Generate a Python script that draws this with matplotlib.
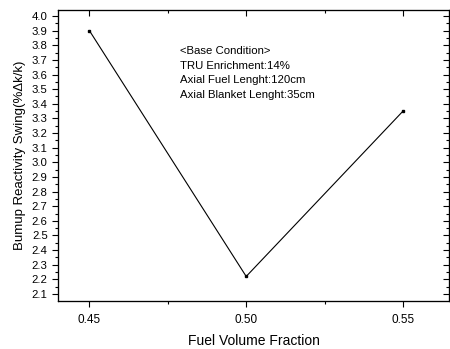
import matplotlib
matplotlib.use('Agg')
import matplotlib.pyplot as plt
from matplotlib.ticker import MultipleLocator

plt.rcParams['font.family'] = ['Liberation Sans', 'DejaVu Sans']

fvf = [0.45, 0.50, 0.55]
swing = [3.90, 2.22, 3.35]
info = ['<Base Condition>', 'TRU Enrichment:14%',
        'Axial Fuel Lenght:120cm', 'Axial Blanket Lenght:35cm']

fig = plt.figure(figsize=(4.5, 3.49), dpi=100)
ax = fig.add_axes([0.129, 0.1375, 0.869, 0.833])

ax.plot(fvf, swing, color='black', lw=0.8, marker='s', ms=2)

ax.set_xlim(0.44, 0.5647)
ax.set_ylim(2.052, 4.039)
ax.set_xticks(fvf)
ax.set_xticklabels(['%.2f' % v for v in fvf])
ax.xaxis.set_minor_locator(MultipleLocator(0.025))
ax.yaxis.set_major_locator(MultipleLocator(0.1))
ax.yaxis.set_minor_locator(MultipleLocator(0.05))
ax.set_yticklabels(['%.1f' % v for v in ax.get_yticks()])

ax.tick_params(axis='both', which='both', width=0.8)
ax.tick_params(axis='x', labelsize=8.5, pad=5)
ax.tick_params(axis='y', labelsize=8.2)
ax.tick_params(which='major', length=4)
ax.tick_params(which='minor', length=2)
ax.tick_params(axis='both', which='both', direction='out', top=False, right=False)

# mirrored inward ticks on top and right
ax2 = ax.twinx()
ax2.set_ylim(ax.get_ylim())
ax2.yaxis.set_major_locator(MultipleLocator(0.1))
ax2.yaxis.set_minor_locator(MultipleLocator(0.05))
ax2.tick_params(axis='y', which='both', direction='in', labelright=False, width=0.8)
ax2.tick_params(which='major', length=4)
ax2.tick_params(which='minor', length=2)
ax3 = ax.twiny()
ax3.set_xlim(ax.get_xlim())
ax3.set_xticks(fvf)
ax3.xaxis.set_minor_locator(MultipleLocator(0.025))
ax3.tick_params(axis='x', which='both', direction='in', labeltop=False, width=0.8)
ax3.tick_params(which='major', length=4)
ax3.tick_params(which='minor', length=2)

for a in (ax, ax2, ax3):
    for s in a.spines.values():
        s.set_linewidth(0.8)

ax.set_xlabel('Fuel Volume Fraction', fontsize=10, labelpad=6)
ax.set_ylabel('Bumup Reactivity Swing(%\u0394k/k)', fontsize=9.5, labelpad=4)

ax.text(0.312, 0.876, '\n'.join(info), transform=ax.transAxes,
        fontsize=8.2, va='top', ha='left', linespacing=1.56)

fig.savefig('out.png', dpi=100)
